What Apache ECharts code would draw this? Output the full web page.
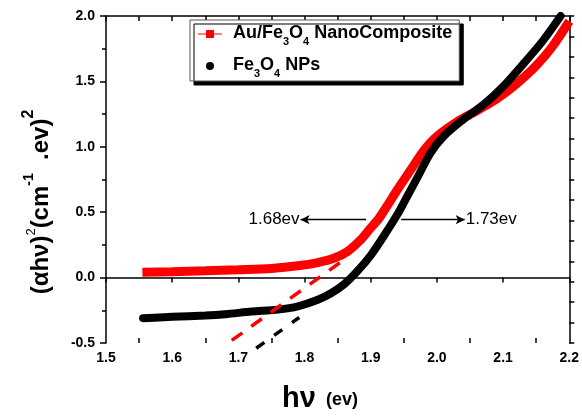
<!DOCTYPE html>
<html>
<head>
<meta charset="utf-8">
<script src="https://cdn.jsdelivr.net/npm/echarts@6/dist/echarts.min.js"></script>
<style>
  html, body { margin: 0; padding: 0; background: #fff; }
  #chart { width: 582px; height: 417px; }
</style>
</head>
<body>
<div id="chart"></div>
<script>
// Tauc plot: (αhν)² versus photon energy hν for the two samples
const seriesNames = ['Au/Fe3O4 NanoComposite', 'Fe3O4 NPs'];

// Au/Fe3O4 nanocomposite: [hν (eV), (αhν)²]
const composite = [
  [1.555, 0.040], [1.600, 0.045], [1.650, 0.052], [1.700, 0.060], [1.750, 0.070],
  [1.790, 0.090], [1.820, 0.115], [1.845, 0.150], [1.865, 0.200], [1.885, 0.290],
  [1.900, 0.380], [1.912, 0.450], [1.925, 0.550], [1.940, 0.670], [1.960, 0.820],
  [1.980, 0.970], [2.000, 1.080], [2.030, 1.190], [2.060, 1.275], [2.090, 1.365],
  [2.120, 1.480], [2.150, 1.620], [2.175, 1.770], [2.200, 1.960]
];

// Bare Fe3O4 nanoparticles: [hν (eV), (αhν)²]
const nanoparticles = [
  [1.556, -0.310], [1.600, -0.300], [1.650, -0.290], [1.680, -0.280], [1.720, -0.260],
  [1.760, -0.245], [1.790, -0.220], [1.820, -0.170], [1.840, -0.120], [1.860, -0.050],
  [1.880, 0.050], [1.900, 0.170], [1.920, 0.320], [1.940, 0.480], [1.955, 0.620],
  [1.970, 0.760], [1.990, 0.950], [2.010, 1.080], [2.040, 1.210], [2.070, 1.320],
  [2.100, 1.460], [2.130, 1.630], [2.160, 1.810], [2.187, 2.000]
];

// Linear extrapolation of the absorption edges
const compositeFit = [[1.690, -0.480], [1.855, 0.120]];
const nanoparticleFit = [[1.727, -0.540], [1.792, -0.305]];

// Band-gap annotations: arrow start/end along hν at a fixed height
const arrowLevel = 0.443;
const gapLabels = ['1.68ev', '1.73ev'];
const leftArrow = [1.893, 1.794];
const rightArrow = [1.946, 2.042];

// Axis ranges and tick steps
const xRange = [1.5, 2.2];
const xStep = 0.1;
const yRange = [-0.5, 2.0];
const yStep = 0.5;

const FONT = "'Liberation Sans', Arial, sans-serif";

const legendRich = {
  g: { width: 6, fontSize: 10 },
  b: { fontFamily: FONT, fontWeight: 'bold', fontSize: 18, color: '#000', lineHeight: 20, verticalAlign: 'top' },
  s: { fontFamily: FONT, fontWeight: 'bold', fontSize: 11, color: '#000', lineHeight: 20, verticalAlign: 'bottom', padding: [0, 0, -3, 0] }
};

function legendText(name) {
  // Fe3O4 → Fe₃O₄ with real subscripts
  return '{g| }' + name.replace(/Fe3O4/, '\u0000').split(/(\u0000)/).map(function (part) {
    if (part === '\u0000') return '{b|Fe}{s|3}{b|O}{s|4}';
    return part ? '{b|' + part + '}' : '';
  }).join('');
}

const chart = echarts.init(document.getElementById('chart'), null, { renderer: 'canvas' });

const axisColor = '#000';

const option = {
  animation: false,
  backgroundColor: '#fff',
  grid: { left: 106, right: 11, top: 16, bottom: 74, containLabel: false },
  legend: {
    data: [
      { name: seriesNames[0], icon: 'path://M0,3.4H24V4.6H0Z M8,0H16V8H8Z', itemStyle: { color: '#ff0000' } },
      { name: seriesNames[1], icon: 'circle', itemStyle: { color: '#000' } }
    ],
    orient: 'vertical',
    left: 190,
    top: 20,
    itemWidth: 24,
    itemHeight: 8,
    itemGap: 9,
    padding: [4, 7, 2, 8],
    backgroundColor: '#fff',
    borderColor: '#555',
    borderWidth: 1,
    borderRadius: 0,
    shadowColor: '#000',
    shadowBlur: 0,
    shadowOffsetX: 4,
    shadowOffsetY: 4,
    formatter: legendText,
    textStyle: { rich: legendRich }
  },
  xAxis: [
    {
      type: 'value', position: 'bottom', min: xRange[0], max: xRange[1], interval: xStep,
      axisLine: { show: true, lineStyle: { color: axisColor, width: 1.5 } },
      axisTick: { show: true, inside: false, length: 5, lineStyle: { color: axisColor, width: 1.5 } },
      axisLabel: { margin: 8, color: '#000', fontFamily: FONT, fontWeight: 'bold', fontSize: 14,
                   formatter: function (v) { return v.toFixed(1); } },
      splitLine: { show: false }
    },
    {
      type: 'value', position: 'bottom', min: xRange[0], max: xRange[1], interval: xStep,
      axisLine: { show: false },
      axisTick: { show: false, inside: true },
      minorTick: { show: true, splitNumber: 2, length: 5, lineStyle: { color: axisColor, width: 1.5 } },
      axisLabel: { show: false },
      splitLine: { show: false }
    },
    {
      type: 'value', position: 'top', min: xRange[0], max: xRange[1], interval: xStep / 2,
      axisLine: { show: true, lineStyle: { color: axisColor, width: 1.5 } },
      axisTick: { show: true, inside: true, length: 5, lineStyle: { color: axisColor, width: 1.5 } },
      axisLabel: { show: false },
      splitLine: { show: false }
    }
  ],
  yAxis: [
    {
      type: 'value', position: 'left', min: yRange[0], max: yRange[1], interval: yStep,
      axisLine: { show: true, lineStyle: { color: axisColor, width: 1.5 } },
      axisTick: { show: true, inside: false, length: 6, lineStyle: { color: axisColor, width: 1.5 } },
      minorTick: { show: true, splitNumber: 2, length: 4, lineStyle: { color: axisColor, width: 1.5 } },
      axisLabel: { margin: 11, color: '#000', fontFamily: FONT, fontWeight: 'bold', fontSize: 14,
                   formatter: function (v) { return v.toFixed(1); } },
      splitLine: { show: false }
    },
    {
      type: 'value', position: 'right', min: 0, max: 16, interval: 1,
      axisLine: { show: true, lineStyle: { color: axisColor, width: 1.5 } },
      axisTick: { show: true, inside: false, length: 5, lineStyle: { color: axisColor, width: 1.5 } },
      axisLabel: { show: false },
      splitLine: { show: false }
    }
  ],
  graphic: [
    {
      // y-axis title, reading bottom to top
      type: 'text', x: 37, y: 202, rotation: Math.PI / 2, silent: true,
      style: {
        text: '{p|(\u03b1h\u03bd)}{sup|2}{p|(cm}{supb|-1}{p|  .ev)}{sup2|2}',
        align: 'center', verticalAlign: 'middle',
        rich: {
          p: { fontFamily: FONT, fontWeight: 'bold', fontSize: 24, fill: '#000', lineHeight: 32, verticalAlign: 'bottom' },
          sup: { fontFamily: FONT, fontSize: 13, fill: '#000', lineHeight: 32, verticalAlign: 'top', padding: [4, 0, 0, 0] },
          supb: { fontFamily: FONT, fontWeight: 'bold', fontSize: 14, fill: '#000', lineHeight: 32, verticalAlign: 'top', padding: [1, 0, 0, 0] },
          sup2: { fontFamily: FONT, fontWeight: 'bold', fontSize: 16, fill: '#000', lineHeight: 32, verticalAlign: 'top' }
        }
      }
    },
    {
      type: 'text', x: 282, y: 413, silent: true,
      style: { text: 'h\u03bd', fontFamily: FONT, fontWeight: 'bold', fontSize: 29, fill: '#000', verticalAlign: 'bottom' }
    },
    {
      type: 'text', x: 326, y: 409, silent: true,
      style: { text: '(ev)', fontFamily: FONT, fontWeight: 'bold', fontSize: 18, fill: '#000', verticalAlign: 'bottom' }
    }
  ],
  series: [
    {
      name: seriesNames[0], type: 'line', data: composite, smooth: 0.3, showSymbol: false, symbol: 'none',
      lineStyle: { color: '#ff0000', width: 9, cap: 'butt' }, itemStyle: { color: '#ff0000' }, z: 3
    },
    {
      name: seriesNames[1], type: 'line', data: nanoparticles, smooth: 0.3, showSymbol: false, symbol: 'none',
      lineStyle: { color: '#000', width: 8, cap: 'round' }, itemStyle: { color: '#000' }, z: 4
    },
    {
      name: 'composite edge fit', type: 'line', data: compositeFit, showSymbol: false, symbol: 'none', clip: false,
      lineStyle: { color: '#ff0000', width: 3.5, type: [13, 11] }, z: 5
    },
    {
      name: 'nanoparticle edge fit', type: 'line', data: nanoparticleFit, showSymbol: false, symbol: 'none', clip: false,
      lineStyle: { color: '#000', width: 3.5, type: [10, 12] }, z: 5
    },
    {
      name: 'band gap', type: 'line', data: [], silent: true,
      markLine: {
        silent: true,
        symbol: ['none', 'arrow'],
        symbolSize: [7, 9],
        lineStyle: { color: '#000', width: 1.3, type: 'solid' },
        label: { show: true, position: 'end', distance: 1, color: '#000', fontFamily: FONT, fontSize: 17, formatter: '{b}' },
        data: [
          [{ name: gapLabels[0], coord: [leftArrow[0], arrowLevel] }, { coord: [leftArrow[1], arrowLevel] }],
          [{ name: gapLabels[1], coord: [rightArrow[0], arrowLevel] }, { coord: [rightArrow[1], arrowLevel] }]
        ]
      }
    }
  ]
};

chart.setOption(option);
</script>
</body>
</html>
